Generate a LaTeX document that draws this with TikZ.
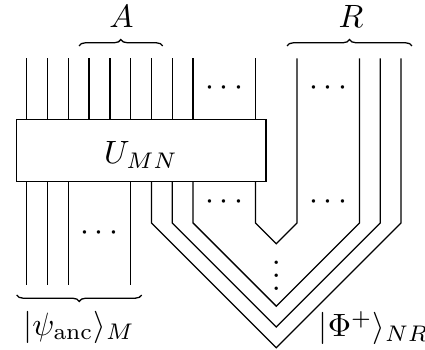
\documentclass[tikz,border=0pt]{standalone}
\usetikzlibrary{decorations.pathreplacing}
\begin{document}
\begin{tikzpicture}[x=0.31pt,y=-0.31pt,
  wire/.style={line width=0.4pt},
  gatebox/.style={draw,line width=0.4pt},
  brc/.style={decorate,decoration={brace,amplitude=2pt},line width=0.4pt},
  lbl/.style={inner sep=0pt}]
\useasboundingbox (0,0) rectangle (425,350);
% wires above the box
\foreach \k in {0,...,8,11}
  \draw[wire] ({26.7+20.8*\k},58.3) -- ({26.7+20.8*\k},119.3);
% ancilla wires below the box
\foreach \k in {0,1,2,5}
  \draw[wire] ({26.7+20.8*\k},181.7) -- ({26.7+20.8*\k},285);
% bent wires (maximally entangled pairs)
\foreach \k/\m in {6/18,7/17,8/16,11/13}
  \draw[wire] ({26.7+20.8*\k},181.7) -- ({26.7+20.8*\k},223)
     -- (276.3,{223+276.3-(26.7+20.8*\k)}) -- ({26.7+20.8*\m},223)
     -- ({26.7+20.8*\m},58.3);
% the unitary
\draw[gatebox] (16.7,119.3) rectangle (266,181.7);
\node[lbl] (U) at (141,155) {$U_{MN}$};
% dots
\node[lbl] (d1) at (224.3,88) {$\cdots$};
\node[lbl] (d2) at (328.3,88) {$\cdots$};
\node[lbl] (d3) at (224.3,202) {$\cdots$};
\node[lbl] (d4) at (328.3,202) {$\cdots$};
\node[lbl] (d5) at (99.5,233) {$\cdots$};
\node[lbl] (d6) at (276.3,266) {$\vdots$};
% braces
\draw[brc] (79,46) -- (162.7,46);
\node[lbl] (A) at (121.5,16) {$A$};
\draw[brc] (287,46) -- (412,46);
\node[lbl] (R) at (351,16) {$R$};
\draw[brc] (141.7,295) -- (16.7,295);
\node[lbl] (psi) at (79,327) {$|\psi_{\mathrm{anc}}\rangle_M$};
\node[lbl] (phi) at (374,328) {$|\Phi^+\rangle_{NR}$};
\end{tikzpicture}
\end{document}
